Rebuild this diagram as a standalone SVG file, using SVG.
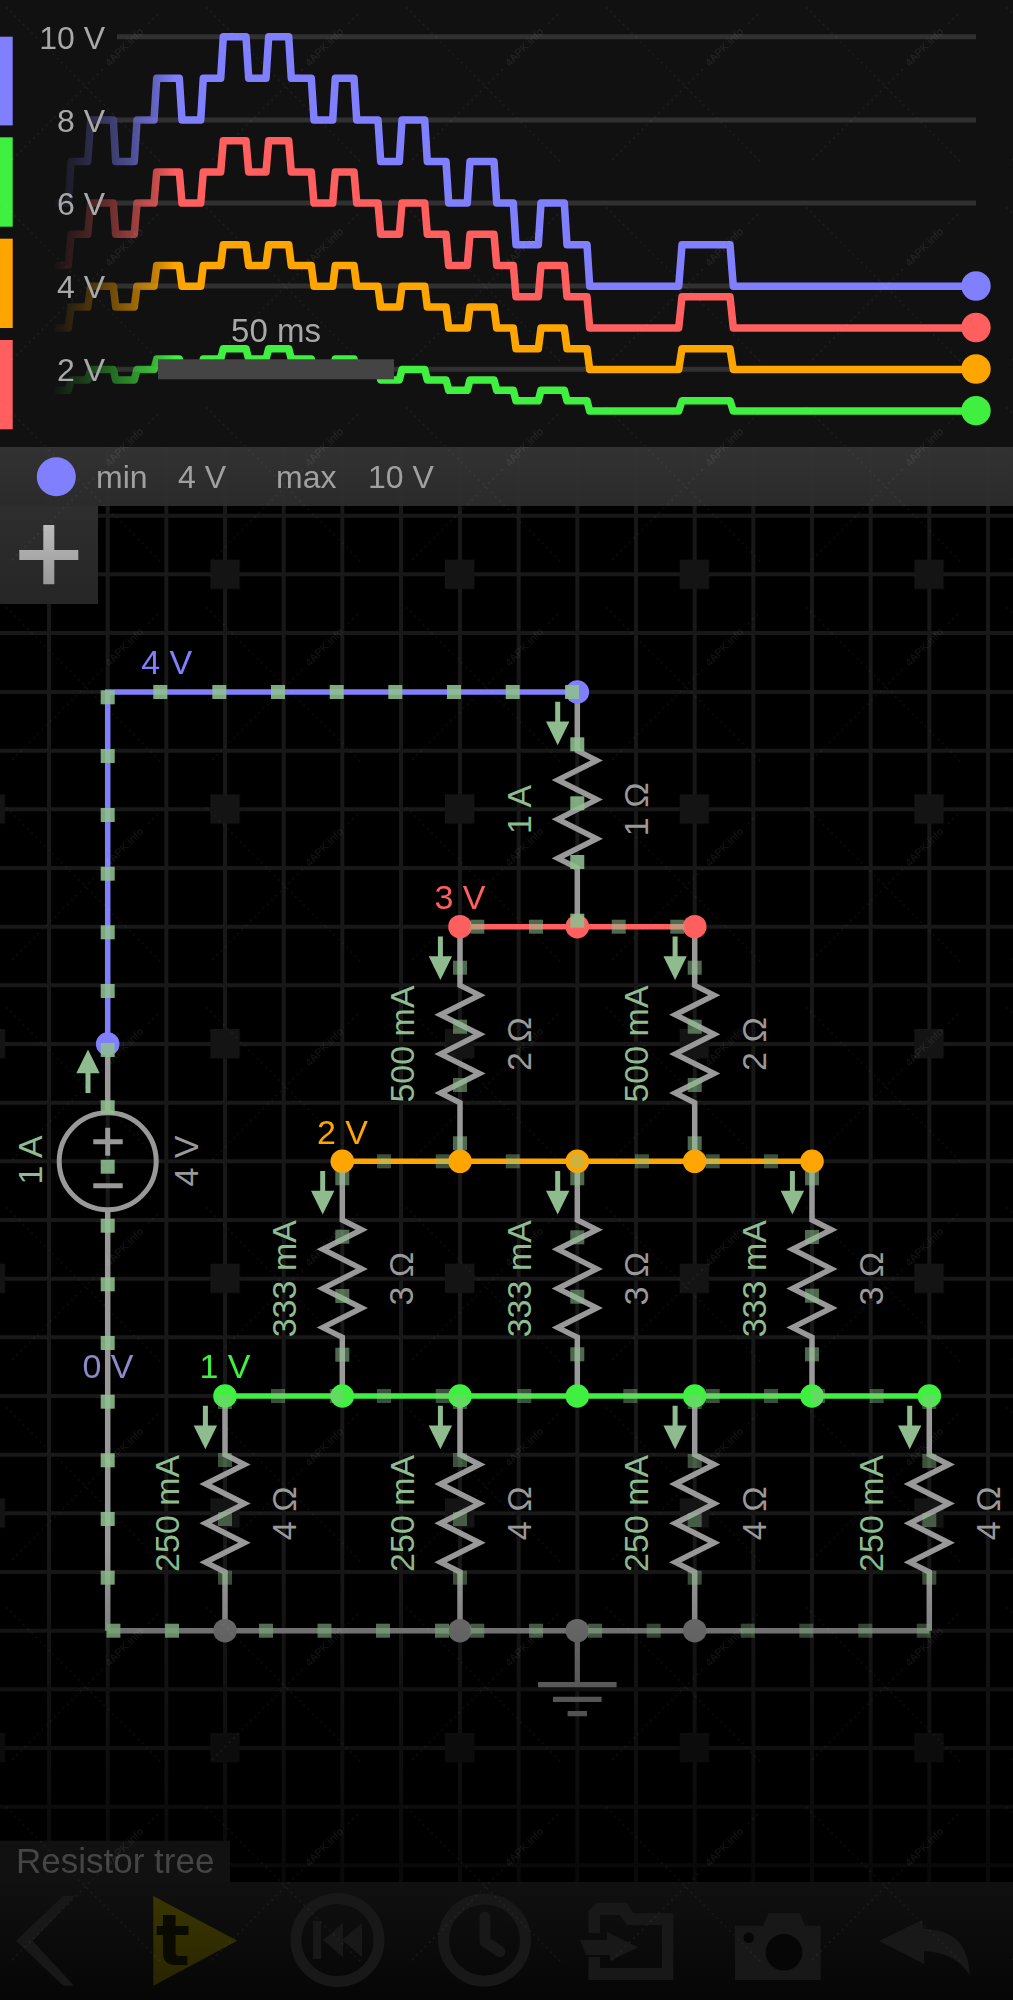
<svg xmlns="http://www.w3.org/2000/svg" xmlns:xlink="http://www.w3.org/1999/xlink" width="1013" height="2000" viewBox="0 0 1013 2000">
<style>
text{font-family:"Liberation Sans",Arial,sans-serif}
.ctr{text-anchor:middle}
.grid{fill:none;stroke:#181818;stroke-width:4}
.sg{fill:none;stroke:#303030;stroke-width:5}
.sl{font-size:32px;fill:#a8a8a8;text-anchor:end}
.bt{font-size:32px;fill:#a0a0a0}
.wire{fill:none;stroke-width:5.5}
.gw{stroke:#999}
.res{fill:none;stroke:#999;stroke-width:5.5;stroke-linejoin:miter}
.cur{font-size:34px;fill:#8fbc8f;text-anchor:middle}
.ohm{font-size:34px;fill:#999;text-anchor:middle}
.vl{font-size:34px;text-anchor:middle}
.arrow{fill:#8fbc8f}
.dot{fill:#90c090}
.a{opacity:.88}.m{opacity:.68}.b{opacity:.55}.c{opacity:.42}
.icon{fill:#181818}
.ring{fill:none;stroke:#181818;stroke-width:11}
#trace{fill:none;stroke-width:7.5;stroke-linejoin:round;vector-effect:non-scaling-stroke}
</style>
<defs>
<linearGradient id="fade" gradientUnits="userSpaceOnUse" x1="50" y1="0" x2="175" y2="0"><stop offset="0" stop-color="#000"/><stop offset=".4" stop-color="#4d4d4d"/><stop offset=".84" stop-color="#bfbfbf"/><stop offset="1" stop-color="#fff"/></linearGradient>
<mask id="fm" maskUnits="userSpaceOnUse" x="0" y="0" width="1013" height="447"><rect x="0" y="0" width="1013" height="447" fill="url(#fade)"/></mask>
<linearGradient id="dim" x1="0" y1="0" x2="0" y2="1"><stop offset="0" stop-color="#000" stop-opacity="0"/><stop offset="1" stop-color="#000" stop-opacity=".85"/></linearGradient>
<linearGradient id="barg" x1="0" y1="0" x2="0" y2="1"><stop offset="0" stop-color="#343434"/><stop offset="1" stop-color="#2c2c2c"/></linearGradient>
<linearGradient id="plusg" x1="0" y1="0" x2="0" y2="1"><stop offset="0" stop-color="#2e2e2e"/><stop offset="1" stop-color="#262626"/></linearGradient>
<linearGradient id="plusi" x1="0" y1="0" x2="0" y2="1"><stop offset="0" stop-color="#bbb"/><stop offset="1" stop-color="#999"/></linearGradient>
<linearGradient id="tool" x1="0" y1="0" x2="0" y2="1"><stop offset="0" stop-color="#111"/><stop offset="1" stop-color="#060606"/></linearGradient>
<linearGradient id="play" x1="0" y1="0" x2="0" y2="1"><stop offset="0" stop-color="#3a3600"/><stop offset="1" stop-color="#282500"/></linearGradient>
<pattern id="fat" patternUnits="userSpaceOnUse" x="-24.33" y="559.67" width="234.67" height="234.67"><rect x="0" y="0" width="29.33" height="29.33" fill="#141414"/></pattern>
<pattern id="wm" patternUnits="userSpaceOnUse" x="0" y="0" width="200" height="200">
<path d="M6,7L162,163M12,160L104,68M148,24L160,12" fill="none" stroke="#fff" stroke-opacity=".05" stroke-width="1.5" stroke-dasharray="2 4"/>
<text x="124" y="51" font-size="11" fill="#fff" fill-opacity=".08" text-anchor="middle" transform="rotate(-45 124 47)">4APK.info</text>
</pattern>
<path id="trace" d="M55,-249.6H68.3L71,-291.2H87.7L90.7,-332.8H113.3L115.7,-291.2H134.3L137,-332.8H154L156.7,-374.4H179.3L182,-332.8H200.7L203.3,-374.4H220.7L223.3,-416H246L248.7,-374.4H266L268.7,-416H288.7L291.3,-374.4H311.3L314,-332.8H332.7L335.3,-374.4H354L356.7,-332.8H378L380.7,-291.2H399.3L402,-332.8H424.7L427.3,-291.2H446L448.7,-249.6H467.3L470,-291.2H494L496.7,-249.6H513.3L516,-208H538.3L541,-249.6H564.3L567,-208H587L589.7,-166.4H678.7L682,-208H730L733.3,-166.4H976"/>
<path id="zig" d="M0,0V58.67L19.5,68.45L-19.5,88L19.5,107.6L-19.5,127.2L19.5,146.7L-19.5,166.3L0,176V234.67"/>
<path id="arr" d="M-2.5,9.7H2.5V29.5H11.7L0,53.3L-11.7,29.5H-2.5Z"/>
<rect id="d" x="-7" y="-7" width="14" height="14"/>
</defs>

<rect id="background" x="0" y="0" width="1013" height="2000" fill="#000"/>
<path id="grid" class="grid" d="M49,447V2000M107.7,447V2000M166.3,447V2000M225,447V2000M283.7,447V2000M342.3,447V2000M401,447V2000M460,447V2000M518.7,447V2000M577.3,447V2000M636,447V2000M694.7,447V2000M753.3,447V2000M812,447V2000M870.7,447V2000M929.3,447V2000M988,447V2000M0,515.7H1013M0,574.3H1013M0,633H1013M0,692H1013M0,750.7H1013M0,809.3H1013M0,868H1013M0,926.7H1013M0,985.3H1013M0,1044H1013M0,1102.7H1013M0,1161.3H1013M0,1220H1013M0,1278.7H1013M0,1337.3H1013M0,1396H1013M0,1454.7H1013M0,1513.3H1013M0,1572H1013M0,1630.7H1013M0,1689.3H1013M0,1748H1013M0,1806.7H1013M0,1865.3H1013M0,1924H1013M0,1982.7H1013"/>
<rect id="gridpads" x="0" y="506" width="1013" height="1494" fill="url(#fat)"/>

<g id="connectors">
<path class="wire" stroke="#8080ff" d="M107.7,1044V692H577.3"/>
<path class="wire" stroke="#ff5f5f" d="M460,926.7H694.7"/>
<path class="wire" stroke="#ffa500" d="M342.3,1161.3H812"/>
<path class="wire" stroke="#40f040" d="M225,1396H929.3"/>
<path class="wire" stroke="#858585" d="M107.7,1630.7H929.3"/>
<path class="wire gw" d="M107.7,1044V1112.8M107.7,1209.8V1630.7"/>
</g>

<g id="source">
<circle cx="107.7" cy="1161.3" r="48.5" fill="none" stroke="#999" stroke-width="5"/>
<path d="M93.3,1141.7H122.7M107.7,1127.7V1155.7M93.3,1185.7H122.7" fill="none" stroke="#999" stroke-width="5"/>
<use href="#arr" class="arrow" transform="translate(88,1102.7) scale(1,-1)"/>
<text class="cur" transform="translate(41.7,1160) rotate(-90)">1 A</text>
<text class="ohm" transform="translate(198.3,1161) rotate(-90)">4 V</text>
</g>

<g id="r1"><use href="#zig" class="res" x="577.3" y="692"/><use href="#arr" class="arrow" x="557.7" y="692"/><text class="cur" transform="translate(531,809.3) rotate(-90)">1 A</text><text class="ohm" transform="translate(648.3,809.3) rotate(-90)">1 Ω</text></g>
<g id="r2"><use href="#zig" class="res" x="460" y="926.7"/><use href="#arr" class="arrow" x="440.4" y="926.7"/><text class="cur" transform="translate(413.7,1044) rotate(-90)">500 mA</text><text class="ohm" transform="translate(531,1044) rotate(-90)">2 Ω</text></g>
<g id="r3"><use href="#zig" class="res" x="694.7" y="926.7"/><use href="#arr" class="arrow" x="675.1" y="926.7"/><text class="cur" transform="translate(648.4,1044) rotate(-90)">500 mA</text><text class="ohm" transform="translate(765.7,1044) rotate(-90)">2 Ω</text></g>
<g id="r4"><use href="#zig" class="res" x="342.3" y="1161.3"/><use href="#arr" class="arrow" x="322.7" y="1161.3"/><text class="cur" transform="translate(296,1278.7) rotate(-90)">333 mA</text><text class="ohm" transform="translate(413.3,1278.7) rotate(-90)">3 Ω</text></g>
<g id="r5"><use href="#zig" class="res" x="577.3" y="1161.3"/><use href="#arr" class="arrow" x="557.7" y="1161.3"/><text class="cur" transform="translate(531,1278.7) rotate(-90)">333 mA</text><text class="ohm" transform="translate(648.3,1278.7) rotate(-90)">3 Ω</text></g>
<g id="r6"><use href="#zig" class="res" x="812" y="1161.3"/><use href="#arr" class="arrow" x="792.4" y="1161.3"/><text class="cur" transform="translate(765.7,1278.7) rotate(-90)">333 mA</text><text class="ohm" transform="translate(883,1278.7) rotate(-90)">3 Ω</text></g>
<g id="r7"><use href="#zig" class="res" x="225" y="1396"/><use href="#arr" class="arrow" x="205.4" y="1396"/><text class="cur" transform="translate(178.7,1513.3) rotate(-90)">250 mA</text><text class="ohm" transform="translate(296,1513.3) rotate(-90)">4 Ω</text></g>
<g id="r8"><use href="#zig" class="res" x="460" y="1396"/><use href="#arr" class="arrow" x="440.4" y="1396"/><text class="cur" transform="translate(413.7,1513.3) rotate(-90)">250 mA</text><text class="ohm" transform="translate(531,1513.3) rotate(-90)">4 Ω</text></g>
<g id="r9"><use href="#zig" class="res" x="694.7" y="1396"/><use href="#arr" class="arrow" x="675.1" y="1396"/><text class="cur" transform="translate(648.4,1513.3) rotate(-90)">250 mA</text><text class="ohm" transform="translate(765.7,1513.3) rotate(-90)">4 Ω</text></g>
<g id="r10"><use href="#zig" class="res" x="929.3" y="1396"/><use href="#arr" class="arrow" x="909.7" y="1396"/><text class="cur" transform="translate(883,1513.3) rotate(-90)">250 mA</text><text class="ohm" transform="translate(1000.3,1513.3) rotate(-90)">4 Ω</text></g>

<g id="ground"><path d="M577.3,1630.7V1684M538,1684.7H616.6M553,1699.3H601.6M567.6,1713.7H587" fill="none" stroke="#777" stroke-width="5.3"/></g>

<g id="nodes-4v" fill="#8080ff"><circle cx="577.3" cy="692" r="11.8"/><circle cx="107.7" cy="1044" r="11.8"/></g>
<g id="nodes-3v" fill="#ff5f5f"><circle cx="460" cy="926.7" r="11.8"/><circle cx="577.3" cy="926.7" r="11.8"/><circle cx="694.7" cy="926.7" r="11.8"/></g>
<g id="nodes-2v" fill="#ffa500"><circle cx="342.3" cy="1161.3" r="11.8"/><circle cx="460" cy="1161.3" r="11.8"/><circle cx="577.3" cy="1161.3" r="11.8"/><circle cx="694.7" cy="1161.3" r="11.8"/><circle cx="812" cy="1161.3" r="11.8"/></g>
<g id="nodes-1v" fill="#40f040"><circle cx="225" cy="1396" r="11.8"/><circle cx="342.3" cy="1396" r="11.8"/><circle cx="460" cy="1396" r="11.8"/><circle cx="577.3" cy="1396" r="11.8"/><circle cx="694.7" cy="1396" r="11.8"/><circle cx="812" cy="1396" r="11.8"/><circle cx="929.3" cy="1396" r="11.8"/></g>
<g id="nodes-0v" fill="#777"><circle cx="225" cy="1630.7" r="11.8"/><circle cx="460" cy="1630.7" r="11.8"/><circle cx="577.3" cy="1630.7" r="11.8"/><circle cx="694.7" cy="1630.7" r="11.8"/></g>

<g id="current-dots" class="dot">
<g class="a">
<use href="#d" x="160.3" y="692"/><use href="#d" x="219.3" y="692"/><use href="#d" x="278" y="692"/><use href="#d" x="336.7" y="692"/><use href="#d" x="395.3" y="692"/><use href="#d" x="454" y="692"/><use href="#d" x="512.7" y="692"/><use href="#d" x="572" y="692"/>
<use href="#d" x="107.7" y="697.3"/><use href="#d" x="107.7" y="756"/><use href="#d" x="107.7" y="815"/><use href="#d" x="107.7" y="873.7"/><use href="#d" x="107.7" y="932.3"/><use href="#d" x="107.7" y="991"/><use href="#d" x="107.7" y="1050"/><use href="#d" x="107.7" y="1107.3"/><use href="#d" x="107.7" y="1166.7"/><use href="#d" x="107.7" y="1225.7"/><use href="#d" x="107.7" y="1284.3"/><use href="#d" x="107.7" y="1343"/><use href="#d" x="107.7" y="1401.7"/><use href="#d" x="107.7" y="1460.3"/><use href="#d" x="107.7" y="1519"/><use href="#d" x="107.7" y="1577.7"/>
<use href="#d" x="113.4" y="1630.7"/><use href="#d" x="172" y="1630.7"/>
<use href="#d" x="577.3" y="744.3"/><use href="#d" x="577.3" y="803.3"/><use href="#d" x="577.3" y="862"/><use href="#d" x="577.3" y="920.7"/>
</g>
<g class="m"><use href="#d" x="266" y="1630.7"/><use href="#d" x="324.5" y="1630.7"/><use href="#d" x="383" y="1630.7"/><use href="#d" x="442" y="1630.7"/></g>
<g class="b">
<use href="#d" x="460" y="967.7"/><use href="#d" x="460" y="1026.7"/><use href="#d" x="460" y="1085"/><use href="#d" x="460" y="1143.3"/>
<use href="#d" x="694.7" y="967.7"/><use href="#d" x="694.7" y="1026.7"/><use href="#d" x="694.7" y="1085"/><use href="#d" x="694.7" y="1143.3"/>
<use href="#d" x="477.3" y="926.7"/><use href="#d" x="536" y="926.7"/><use href="#d" x="618.7" y="926.7"/><use href="#d" x="677.3" y="926.7"/>
<use href="#d" x="477.3" y="1630.7"/><use href="#d" x="536" y="1630.7"/><use href="#d" x="595" y="1630.7"/>
<use href="#d" x="342.3" y="1178.3"/><use href="#d" x="342.3" y="1236.7"/><use href="#d" x="342.3" y="1296"/><use href="#d" x="342.3" y="1354.7"/>
<use href="#d" x="577.3" y="1178.3"/><use href="#d" x="577.3" y="1237.3"/><use href="#d" x="577.3" y="1296.7"/><use href="#d" x="577.3" y="1354.3"/>
<use href="#d" x="812" y="1178.3"/><use href="#d" x="812" y="1237"/><use href="#d" x="812" y="1295.7"/><use href="#d" x="812" y="1354.3"/>
</g>
<g class="c">
<use href="#d" x="384" y="1161.3"/><use href="#d" x="442.7" y="1161.3"/><use href="#d" x="512.7" y="1161.3"/><use href="#d" x="577.3" y="1161.3"/><use href="#d" x="642" y="1161.3"/><use href="#d" x="712.7" y="1161.3"/><use href="#d" x="771" y="1161.3"/>
<use href="#d" x="278" y="1396"/><use href="#d" x="336.7" y="1396"/><use href="#d" x="384" y="1396"/><use href="#d" x="442.7" y="1396"/><use href="#d" x="524.3" y="1396"/><use href="#d" x="630.3" y="1396"/><use href="#d" x="712.7" y="1396"/><use href="#d" x="771" y="1396"/><use href="#d" x="818" y="1396"/><use href="#d" x="876.7" y="1396"/>
<use href="#d" x="225" y="1402"/><use href="#d" x="225" y="1460"/><use href="#d" x="225" y="1519"/><use href="#d" x="225" y="1577.7"/>
<use href="#d" x="460" y="1402"/><use href="#d" x="460" y="1460"/><use href="#d" x="460" y="1519"/><use href="#d" x="460" y="1577.7"/>
<use href="#d" x="694.7" y="1402"/><use href="#d" x="694.7" y="1461"/><use href="#d" x="694.7" y="1520"/><use href="#d" x="694.7" y="1577.7"/>
<use href="#d" x="929.3" y="1402"/><use href="#d" x="929.3" y="1461"/><use href="#d" x="929.3" y="1520"/><use href="#d" x="929.3" y="1577.7"/>
<use href="#d" x="653.7" y="1630.7"/><use href="#d" x="747.7" y="1630.7"/><use href="#d" x="806.3" y="1630.7"/><use href="#d" x="865.3" y="1630.7"/><use href="#d" x="923.7" y="1630.7"/>
</g>
</g>

<g id="voltage-labels">
<text class="vl" x="166.7" y="674" fill="#8080ff">4 V</text>
<text class="vl" x="460" y="909.3" fill="#ff5f5f">3 V</text>
<text class="vl" x="342.5" y="1144" fill="#ffa500">2 V</text>
<text class="vl" x="225" y="1378" fill="#40f040">1 V</text>
<text class="vl" x="108" y="1378" fill="#8a8ac8">0 V</text>
</g>

<g id="scope">
<rect x="0" y="0" width="1013" height="447" fill="#111"/>
<rect x="0" y="36.7" width="12.7" height="88.7" fill="#8080ff"/>
<rect x="0" y="137.3" width="12.7" height="89.4" fill="#40f040"/>
<rect x="0" y="238.7" width="12.7" height="89.3" fill="#ffa500"/>
<rect x="0" y="340" width="12.7" height="89.3" fill="#ff5f5f"/>
<path class="sg" d="M117,36.7H976M117,120H976M117,203H976M117,286H976M117,369.3H976"/>
<g mask="url(#fm)">
<use href="#trace" stroke="#40f040" transform="translate(0,452.7) scale(1,.25)"/>
<use href="#trace" stroke="#ffa500" transform="translate(0,452.7) scale(1,.5)"/>
<use href="#trace" stroke="#ff5f5f" transform="translate(0,452.7) scale(1,.75)"/>
<use href="#trace" stroke="#8080ff" transform="translate(0,452.7)"/>
</g>
<circle cx="976" cy="286" r="14.7" fill="#8080ff"/>
<circle cx="976" cy="327.5" r="14.7" fill="#ff5f5f"/>
<circle cx="976" cy="369" r="14.7" fill="#ffa500"/>
<circle cx="976" cy="410.7" r="14.7" fill="#40f040"/>
<text class="sl" x="105" y="49">10 V</text>
<text class="sl" x="105" y="132">8 V</text>
<text class="sl" x="105" y="215">6 V</text>
<text class="sl" x="105" y="298">4 V</text>
<text class="sl" x="105" y="381">2 V</text>
<rect x="158" y="359.3" width="236" height="20" fill="#444"/>
<text x="276" y="341.7" font-size="33" fill="#a8a8a8" text-anchor="middle">50 ms</text>
</g>

<g id="status-bar">
<rect x="0" y="447" width="1013" height="59" fill="url(#barg)" opacity=".96"/>
<circle cx="56.3" cy="476.7" r="19.5" fill="#8080ff"/>
<text class="bt" x="96" y="488.3">min</text>
<text class="bt" x="178" y="488.3">4 V</text>
<text class="bt" x="276" y="488.3">max</text>
<text class="bt" x="368" y="488.3">10 V</text>
</g>

<g id="add-button">
<rect x="0" y="506" width="98" height="98" fill="url(#plusg)"/>
<path d="M19.3,550H43.3V525H54.3V550H78.3V560H54.3V584.3H43.3V560H19.3Z" fill="url(#plusi)"/>
</g>

<rect id="bottom-dim" x="0" y="1550" width="1013" height="450" fill="url(#dim)"/>

<g id="toolbar">
<rect x="0" y="1840.7" width="230" height="42" fill="#111"/>
<text x="16" y="1873" font-size="35" fill="#454545">Resistor tree</text>
<rect x="0" y="1882" width="1013" height="118" fill="url(#tool)" opacity=".95"/>
<path class="icon" d="M63.3,1896H75L32.7,1940.7L74,1985.7H63.3L16,1940.7Z"/>
<path d="M153.3,1896L237.3,1940.7L153.3,1985.7Z" fill="url(#play)"/>
<text x="173" y="1965" font-size="72" font-weight="bold" fill="#0a0a00" text-anchor="middle" style="font-family:'DejaVu Sans',sans-serif">t</text>
<circle class="ring" cx="337.5" cy="1940" r="41.5"/>
<path class="icon" d="M313,1921H321V1959H313ZM323,1940L343,1923V1957ZM342,1940L362,1923V1957Z"/>
<circle class="ring" cx="484.5" cy="1940" r="41"/>
<path d="M485,1917V1941.7L500,1951.7" fill="none" stroke="#181818" stroke-width="11" stroke-linecap="round" stroke-linejoin="round"/>
<path class="icon" d="M596.7,1902.7H626.7L633.3,1913.3H673.3V1980H588.3V1957H600V1968H662V1925H627L620,1915H600V1933H588.3V1911Z"/>
<path class="icon" d="M580,1940H606.7V1931.7L638.3,1947.3L610,1961V1955H586Z"/>
<path class="icon" d="M735,1925.7H763.3L768.3,1913.3H800L805,1925.7H820.7V1980H735Z"/>
<circle cx="784" cy="1952.3" r="18.3" fill="#060606"/>
<circle cx="748.7" cy="1937.7" r="5.3" fill="#060606"/>
<path class="icon" d="M879,1941L922,1920L924,1929C950,1930 968,1940 970,1975C960,1960 945,1952 924,1951V1964Z"/>
</g>

<rect id="watermark" x="0" y="0" width="1013" height="2000" fill="url(#wm)"/>
</svg>
